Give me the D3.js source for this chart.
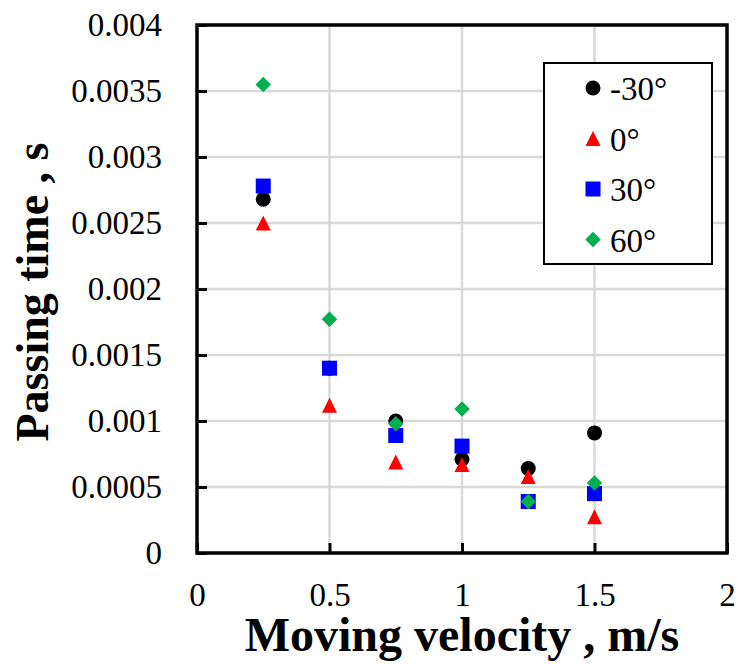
<!DOCTYPE html>
<html>
<head>
<meta charset="utf-8">
<script src="https://cdn.jsdelivr.net/npm/d3@7"></script>
<style>
  html, body { margin: 0; padding: 0; background: #fff; }
  svg { display: block; }
  svg text { font-family: "Liberation Serif", "Times New Roman", serif; fill: #000; }
</style>
</head>
<body>
<svg id="chart" width="740" height="664"></svg>
<script>
// Moving velocity (m/s) at which passing time was measured
const velocities = [0.25, 0.5, 0.75, 1.0, 1.25, 1.5];

// Passing time (s) for each inclination angle
const seriesNames = ["-30°", "0°", "30°", "60°"];
const timeMinus30 = [0.00268, 0.00140, 0.00100, 0.00071, 0.00064, 0.00091];
const time0       = [0.00250, 0.00112, 0.00069, 0.00067, 0.00058, 0.000275];
const time30      = [0.00278, 0.00140, 0.00089, 0.00081, 0.00039, 0.00045];
const time60      = [0.00355, 0.00177, 0.00098, 0.00109, 0.00039, 0.00053];

const xTicks = [0, 0.5, 1, 1.5, 2];
const yTicks = [0, 0.0005, 0.001, 0.0015, 0.002, 0.0025, 0.003, 0.0035, 0.004];
const xTickLabels = ["0", "0.5", "1", "1.5", "2"];
const yTickLabels = ["0", "0.0005", "0.001", "0.0015", "0.002", "0.0025", "0.003", "0.0035", "0.004"];

// Marker shapes; the size passed in is the full width of the marker
const shapeCircle = { draw(ctx, w) { const r = w / 2; ctx.moveTo(r, 0); ctx.arc(0, 0, r, 0, 2 * Math.PI); } };
const shapeTriangle = { draw(ctx, w) { const h = w / 2; ctx.moveTo(0, -h); ctx.lineTo(h, h); ctx.lineTo(-h, h); ctx.closePath(); } };
const shapeSquare = { draw(ctx, w) { const h = w / 2; ctx.rect(-h, -h, w, w); } };
const shapeDiamond = { draw(ctx, w) { const h = w / 2; ctx.moveTo(0, -h); ctx.lineTo(h, 0); ctx.lineTo(0, h); ctx.lineTo(-h, 0); ctx.closePath(); } };

const series = [
  { name: seriesNames[0], values: timeMinus30, color: "#000000", shape: shapeCircle,   w: 15 },
  { name: seriesNames[1], values: time0,       color: "#ff0000", shape: shapeTriangle, w: 15 },
  { name: seriesNames[2], values: time30,      color: "#0000ff", shape: shapeSquare,   w: 15 },
  { name: seriesNames[3], values: time60,      color: "#00b050", shape: shapeDiamond,  w: 15.5 }
];

const svg = d3.select("#chart");

const plotLeft = 197, plotRight = 727, plotTop = 25, plotBottom = 553;
const x = d3.scaleLinear().domain([0, 2]).range([plotLeft, plotRight]);
const y = d3.scaleLinear().domain([0, 0.004]).range([plotBottom, plotTop]);

// Grid lines
svg.append("g")
  .selectAll("line")
  .data(xTicks.slice(1, -1))
  .join("line")
  .attr("x1", d => x(d)).attr("x2", d => x(d))
  .attr("y1", plotTop).attr("y2", plotBottom)
  .attr("stroke", "#d9d9d9").attr("stroke-width", 2.5);

svg.append("g")
  .selectAll("line")
  .data(yTicks.slice(1, -1))
  .join("line")
  .attr("x1", plotLeft).attr("x2", plotRight)
  .attr("y1", d => y(d)).attr("y2", d => y(d))
  .attr("stroke", "#d9d9d9").attr("stroke-width", 2.5);

// Axes with inward ticks
const xAxis = d3.axisBottom(x).tickValues(xTicks)
  .tickFormat((d, i) => xTickLabels[i]).tickSizeInner(-10).tickSizeOuter(0).tickPadding(30);
const gx = svg.append("g").attr("transform", `translate(0,${plotBottom})`).call(xAxis);
gx.attr("font-family", null).attr("font-size", null);
gx.select(".domain").remove();
gx.selectAll("line").attr("stroke", "#000").attr("stroke-width", 3);
gx.selectAll("text").style("font-size", "33px");

const yAxis = d3.axisLeft(y).tickValues(yTicks)
  .tickFormat((d, i) => yTickLabels[i]).tickSizeInner(-10).tickSizeOuter(0).tickPadding(35);
const gy = svg.append("g").attr("transform", `translate(${plotLeft},0)`).call(yAxis);
gy.attr("font-family", null).attr("font-size", null);
gy.select(".domain").remove();
gy.selectAll("line").attr("stroke", "#000").attr("stroke-width", 3);
gy.selectAll("text").style("font-size", "33px");

// Plot frame
svg.append("rect")
  .attr("x", plotLeft).attr("y", plotTop)
  .attr("width", plotRight - plotLeft).attr("height", plotBottom - plotTop)
  .attr("fill", "none").attr("stroke", "#000").attr("stroke-width", 3.5);

// Markers
series.forEach(s => {
  const sym = d3.symbol().type(s.shape).size(s.w);
  svg.append("g")
    .selectAll("path")
    .data(s.values.map((v, i) => ({ vx: velocities[i], vy: v })))
    .join("path")
    .attr("d", sym)
    .attr("transform", d => `translate(${x(d.vx)},${y(d.vy)})`)
    .attr("fill", s.color);
});

// Legend
const lg = svg.append("g");
lg.append("rect")
  .attr("x", 544).attr("y", 63).attr("width", 168).attr("height", 201)
  .attr("fill", "#fff").attr("stroke", "#000").attr("stroke-width", 2);
series.forEach((s, i) => {
  const cy = 88 + i * 50.5;
  lg.append("path")
    .attr("d", d3.symbol().type(s.shape).size(s.w)())
    .attr("transform", `translate(593,${cy})`)
    .attr("fill", s.color);
  lg.append("text")
    .attr("x", 610).attr("y", cy + 12)
    .style("font-size", "33px")
    .text(s.name);
});

// Axis titles
svg.append("text")
  .attr("x", (plotLeft + plotRight) / 2).attr("y", 651)
  .attr("text-anchor", "middle")
  .style("font-size", "48px").style("font-weight", "bold")
  .text("Moving velocity , m/s");

svg.append("text")
  .attr("transform", `translate(48,${(plotTop + plotBottom) / 2 + 3}) rotate(-90)`)
  .attr("text-anchor", "middle")
  .style("font-size", "46px").style("font-weight", "bold")
  .text("Passing time , s");
</script>
</body>
</html>
